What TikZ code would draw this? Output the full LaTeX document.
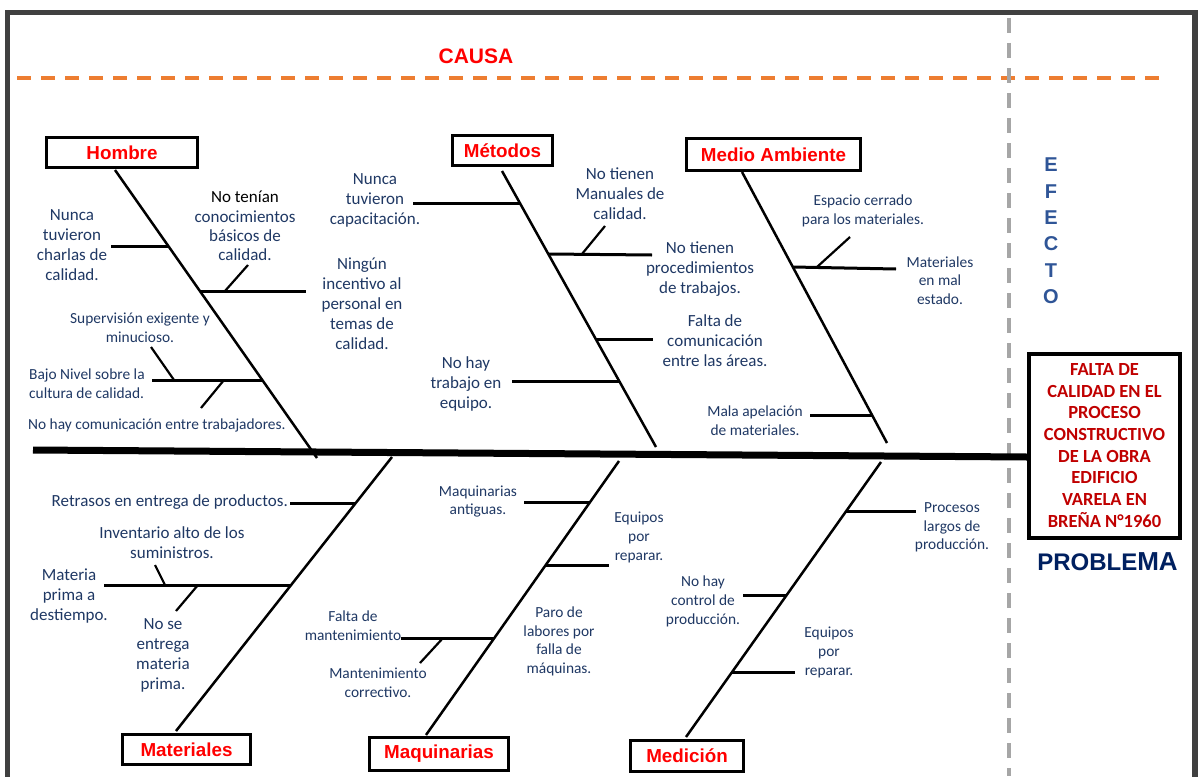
\documentclass[tikz,border=0pt]{standalone}
\usepackage{fontspec}
\setmainfont{Carlito}
\newfontfamily\headfont{Liberation Sans}
\usetikzlibrary{calc}

\definecolor{txtblue}{RGB}{31,56,100}
\definecolor{labred}{RGB}{255,0,0}
\definecolor{probred}{RGB}{192,0,0}
\definecolor{navy}{RGB}{0,32,96}
\definecolor{efblue}{RGB}{47,85,151}
\definecolor{framegray}{RGB}{64,64,64}
\definecolor{causeorange}{RGB}{237,125,49}
\definecolor{sepgray}{RGB}{166,166,166}

\begin{document}
\begin{tikzpicture}[x=1pt,y=-1pt,
  every node/.style={inner sep=0pt},
  catbox/.style={draw=black, line width=3pt, fill=white, text=labred,
    font=\headfont\bfseries\fontsize{18.8}{20}\selectfont},
  probbox/.style={draw=black, line width=4pt, fill=white, text=probred, align=center,
    font=\bfseries\fontsize{18.5}{21.7}\selectfont},
  lt/.style={text=txtblue, align=center, font=\fontsize{17}{20}\selectfont},
  mt/.style={text=txtblue, align=center, font=\fontsize{17}{19.3}\selectfont},
  st/.style={text=txtblue, align=center, font=\fontsize{15.4}{18.7}\selectfont},
  spine/.style={line width=7pt, black},
  bone/.style={line width=2.5pt, black},
  branch/.style={line width=3pt, black},
  twig/.style={line width=2.2pt, black}]

\clip (0,0) rectangle (1198,776);
\fill[white] (0,0) rectangle (1198,776);

% outer frame
\draw[line width=5.5pt, framegray] (7.5,12.5) rectangle (1195,800);

% cause / effect separators
\draw[line width=4pt, causeorange, dash pattern=on 13.5pt off 10.5pt] (17,78) -- (1161,78);
\draw[line width=4pt, sepgray, dash pattern=on 15pt off 10pt] (1009,18) -- (1009,776);

\node[text=labred, font=\headfont\bfseries\fontsize{21}{22}\selectfont] (causa) at (476,56) {CAUSA};
\node[text=efblue, align=center, font=\headfont\bfseries\fontsize{20}{26.4}\selectfont] (efecto) at (1051,231) {E\\F\\E\\C\\T\\O};

% problem box and spine
\coordinate (tail) at (33,450);
\coordinate (head) at (1027,457);
\draw[spine] (tail) -- (head);
\node[probbox, minimum width=151pt, minimum height=184pt] (prob) at (1104.5,445.5)
  {FALTA DE\\CALIDAD EN EL\\PROCESO\\CONSTRUCTIVO\\DE LA OBRA\\EDIFICIO\\VARELA EN\\BREÑA N°1960};
\node[text=navy, font=\headfont\bfseries] (problema) at (1107.5,562)
  {{\fontsize{24}{24}\selectfont PROBLE}{\fontsize{26}{26}\selectfont MA}};

% category boxes
\node[catbox, minimum width=151pt, minimum height=30pt] (hombre) at (122,152.5) {Hombre};
\node[catbox, minimum width=100pt, minimum height=30pt] (metodos) at (502.5,150.5) {Métodos};
\node[catbox, minimum width=174pt, minimum height=32pt] (medio) at (773.5,154.5) {Medio Ambiente};
\node[catbox, minimum width=128pt, minimum height=30pt] (materiales) at (186.5,749.5) {Materiales};
\node[catbox, minimum width=139pt, minimum height=33pt] (maquinarias) at (439,754) {Maquinarias};
\node[catbox, minimum width=113pt, minimum height=31pt] (medicion) at (687,756) {Medición};

% ---------- Hombre ----------
\coordinate (hA) at (115,170); \coordinate (hB) at (317,458);
\draw[bone] (hA) -- (hB);
\coordinate (h1s) at (111,246); \coordinate (h1e) at (168.3,246);
\draw[branch] (h1s) -- (h1e);
\coordinate (h2s) at (199.9,291); \coordinate (h2e) at (306,291);
\draw[branch] (h2s) -- (h2e);
\coordinate (h2k) at (225,291); \coordinate (h2t) at (248,265);
\draw[twig] (h2k) -- (h2t);
\coordinate (h3s) at (152,380); \coordinate (h3e) at (262.3,380);
\draw[branch] (h3s) -- (h3e);
\coordinate (h3k) at (174,380); \coordinate (h3t) at (151,347);
\draw[twig] (h3k) -- (h3t);
\coordinate (h3m) at (224,380); \coordinate (h3b) at (201,408);
\draw[twig] (h3m) -- (h3b);

\node[lt] (th1) at (72,245) {Nunca\\tuvieron\\charlas de\\calidad.};
\node[mt] (th2) at (245,226) {\textcolor{black}{No tenían}\\conocimientos\\básicos de\\calidad.};
\node[lt] (th3) at (362,303.5) {Ningún\\incentivo al\\personal en\\temas de\\calidad.};
\node[st] (th4) at (140,327.5) {Supervisión exigente y\\minucioso.};
\node[st, anchor=west, align=left] (th5) at (29,383.5) {Bajo Nivel sobre la\\cultura de calidad.};
\node[st, anchor=west] (th6) at (28,425.5) {No hay comunicación entre trabajadores.};

% ---------- Métodos ----------
\coordinate (mA) at (502,171); \coordinate (mB) at (656,447);
\draw[bone] (mA) -- (mB);
\coordinate (m1s) at (413,203); \coordinate (m1e) at (519.9,203);
\draw[branch] (m1s) -- (m1e);
\coordinate (m2s) at (548.3,254); \coordinate (m2e) at (652,255);
\draw[branch] (m2s) -- (m2e);
\coordinate (m2k) at (582,254); \coordinate (m2t) at (605,226);
\draw[twig] (m2k) -- (m2t);
\coordinate (m3s) at (595.7,339); \coordinate (m3e) at (653,339);
\draw[branch] (m3s) -- (m3e);
\coordinate (m4s) at (512,381); \coordinate (m4e) at (619.2,381);
\draw[branch] (m4s) -- (m4e);

\node[lt] (tm1) at (375,200) {Nunca\\tuvieron\\capacitación.};
\node[lt] (tm2) at (620,194) {No tienen\\Manuales de\\calidad.};
\node[lt] (tm3) at (700,269) {No tienen\\procedimientos\\de trabajos.};
\node[lt] (tm4) at (715,341) {Falta de\\comunicación\\entre las áreas.};
\node[lt] (tm5) at (466,384) {No hay\\trabajo en\\equipo.};

% ---------- Medio Ambiente ----------
\coordinate (aA) at (742,172); \coordinate (aB) at (887,443);
\draw[bone] (aA) -- (aB);
\coordinate (a1s) at (792.8,267); \coordinate (a1e) at (896,269);
\draw[branch] (a1s) -- (a1e);
\coordinate (a1k) at (817,267); \coordinate (a1t) at (850,237);
\draw[twig] (a1k) -- (a1t);
\coordinate (a2s) at (810,415); \coordinate (a2e) at (872,415);
\draw[branch] (a2s) -- (a2e);

\node[st] (ta1) at (863,211) {Espacio cerrado\\para los materiales.};
\node[st] (ta2) at (940,280.5) {Materiales\\en mal\\estado.};
\node[st] (ta3) at (755,420.5) {Mala apelación\\de materiales.};

% ---------- Materiales ----------
\coordinate (tA) at (392,457); \coordinate (tB) at (176,731);
\draw[bone] (tA) -- (tB);
\coordinate (t1s) at (290,503); \coordinate (t1e) at (355.7,503);
\draw[branch] (t1s) -- (t1e);
\coordinate (t2s) at (104,585); \coordinate (t2e) at (291.1,585);
\draw[branch] (t2s) -- (t2e);
\coordinate (t2k) at (165,585); \coordinate (t2t) at (155,565);
\draw[twig] (t2k) -- (t2t);
\coordinate (t2m) at (198,585); \coordinate (t2b) at (176,611);
\draw[twig] (t2m) -- (t2b);

\node[lt, anchor=east] (tt1) at (288,502) {Retrasos en entrega de productos.};
\node[lt] (tt2) at (172,543) {Inventario alto de los\\suministros.};
\node[lt] (tt3) at (69,596) {Materia\\prima a\\destiempo.};
\node[lt] (tt4) at (163,655.5) {No se\\entrega\\materia\\prima.};

% ---------- Maquinarias ----------
\coordinate (qA) at (619,461); \coordinate (qB) at (426,735);
\draw[bone] (qA) -- (qB);
\coordinate (q1s) at (524,502); \coordinate (q1e) at (590.1,502);
\draw[branch] (q1s) -- (q1e);
\coordinate (q2s) at (545.7,565); \coordinate (q2e) at (609,565);
\draw[branch] (q2s) -- (q2e);
\coordinate (q3s) at (401,638); \coordinate (q3e) at (494.3,638);
\draw[branch] (q3s) -- (q3e);
\coordinate (q3k) at (443,638); \coordinate (q3b) at (420,663);
\draw[twig] (q3k) -- (q3b);

\node[st] (tq1) at (478,501.5) {Maquinarias\\antiguas.};
\node[st] (tq2) at (639,537.5) {Equipos\\por\\reparar.};
\node[st] (tq3) at (353,626) {Falta de\\mantenimiento};
\node[st] (tq4) at (378,682.5) {Mantenimiento\\correctivo.};
\node[st] (tq5) at (559,641.5) {Paro de\\labores por\\falla de\\máquinas.};

% ---------- Medición ----------
\coordinate (dA) at (881,462); \coordinate (dB) at (686,737);
\draw[bone] (dA) -- (dB);
\coordinate (d1s) at (846.3,511); \coordinate (d1e) at (916,511);
\draw[branch] (d1s) -- (d1e);
\coordinate (d2s) at (743,595); \coordinate (d2e) at (786.7,595);
\draw[branch] (d2s) -- (d2e);
\coordinate (d3s) at (732.1,672); \coordinate (d3e) at (795,672);
\draw[branch] (d3s) -- (d3e);

\node[st] (td1) at (952,527.5) {Procesos\\largos de\\producción.};
\node[st] (td2) at (703,601.5) {No hay\\control de\\producción.};
\node[st] (td3) at (829,652.5) {Equipos\\por\\reparar.};

\end{tikzpicture}
\end{document}
